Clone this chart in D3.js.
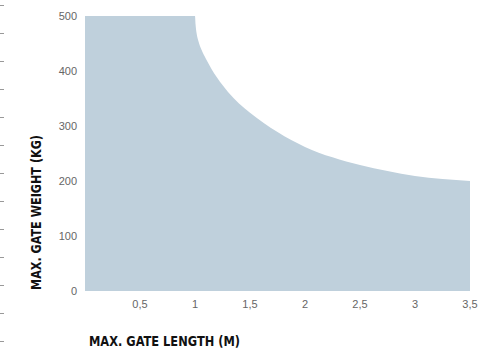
<!DOCTYPE html>
<html>
<head>
<meta charset="utf-8">
<script src="https://cdn.jsdelivr.net/npm/d3@7"></script>
<style>
  body { margin: 0; background: #fff; }
  svg { display: block; }
</style>
</head>
<body>
<div id="chart"></div>
<script>
// gate length (m) vs max gate weight (kg)
const lengths = [0, 1, 1.005, 1.015, 1.03, 1.06, 1.1, 1.2, 1.3, 1.4, 1.5, 1.75, 2, 2.25, 2.5, 2.75, 3, 3.25, 3.5];
const weights = [500, 500, 485, 468, 455, 438, 422, 388, 362, 341, 324, 289, 262, 243, 229, 218, 209, 203.5, 200];

const xTicks = [0.5, 1, 1.5, 2, 2.5, 3, 3.5];
const yTicks = [0, 100, 200, 300, 400, 500];

const width = 482, height = 350;

const data = lengths.map((l, i) => ({ l, w: weights[i] }));

const x = d3.scaleLinear().domain([0, 3.5]).range([85, 470]);
const y = d3.scaleLinear().domain([0, 500]).range([291, 16]);

const locale = d3.formatLocale({ decimal: ",", thousands: ".", grouping: [3], currency: ["", "€"] });
const fmt = locale.format("~g");

const svg = d3.select("#chart")
  .append("svg")
  .attr("width", width)
  .attr("height", height);

// little dashes on the page edge
svg.append("g")
  .selectAll("line")
  .data(d3.range(5, height, 28))
  .join("line")
  .attr("x1", 0).attr("x2", 4)
  .attr("y1", d => d + 0.5).attr("y2", d => d + 0.5)
  .attr("stroke", "#999")
  .attr("stroke-width", 1);

const area = d3.area()
  .x(d => x(d.l))
  .y0(y(0))
  .y1(d => y(d.w))
  .curve(d3.curveMonotoneX);

svg.append("path")
  .datum(data)
  .attr("d", area)
  .attr("fill", "#bfd0dc");

// y tick labels
svg.append("g")
  .selectAll("text")
  .data(yTicks)
  .join("text")
  .attr("x", 77)
  .attr("y", d => y(d))
  .attr("dy", "0.35em")
  .attr("text-anchor", "end")
  .attr("font-family", "Liberation Sans, Arial, sans-serif")
  .attr("font-size", 11)
  .attr("fill", "#666")
  .text(d => d);

// x tick labels
svg.append("g")
  .selectAll("text")
  .data(xTicks)
  .join("text")
  .attr("x", d => x(d))
  .attr("y", 304)
  .attr("dy", "0.35em")
  .attr("text-anchor", "middle")
  .attr("font-family", "Liberation Sans, Arial, sans-serif")
  .attr("font-size", 11)
  .attr("fill", "#666")
  .text(d => fmt(d));

// axis titles
svg.append("text")
  .attr("x", 89)
  .attr("y", 346)
  .attr("font-family", "Liberation Sans Narrow, DejaVu Sans Condensed, sans-serif")
  .attr("font-weight", "bold")
  .attr("font-size", 14)
  .attr("textLength", 151)
  .attr("lengthAdjust", "spacingAndGlyphs")
  .attr("fill", "#111")
  .text("MAX. GATE LENGTH (M)");

svg.append("text")
  .attr("transform", "translate(41,290) rotate(-90)")
  .attr("font-family", "Liberation Sans Narrow, DejaVu Sans Condensed, sans-serif")
  .attr("font-weight", "bold")
  .attr("font-size", 14)
  .attr("textLength", 155)
  .attr("lengthAdjust", "spacingAndGlyphs")
  .attr("fill", "#111")
  .text("MAX. GATE WEIGHT (KG)");
</script>
</body>
</html>
